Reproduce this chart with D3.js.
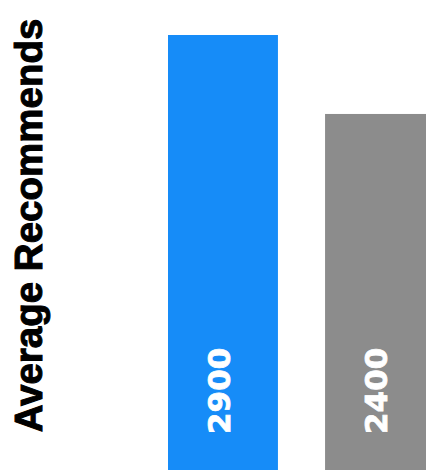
<!DOCTYPE html>
<html>
<head>
<meta charset="utf-8">
<script src="https://cdn.jsdelivr.net/npm/d3@7"></script>
<style>
  html, body { margin: 0; padding: 0; background: #fff; overflow: hidden; }
  svg { display: block; }
</style>
</head>
<body>
<script>
// Average recommends per group
const categories = ["Group A", "Group B"];
const values = [2900, 2400];
const valueLabels = ["2900", "2400"];
const colors = ["#168cf8", "#8c8c8c"];
const yTitle = "Average Recommends";

const W = 426, H = 470;
const svg = d3.select("body").append("svg")
  .attr("width", W).attr("height", H)
  .style("overflow", "hidden");

// plot area extends past the visible frame
const x = d3.scaleBand().domain(categories).range([168, 435]).paddingInner(0.3).paddingOuter(0);
const y = d3.scaleLinear().domain([0, 2900]).range([493, 35]);

svg.selectAll("rect.bar")
  .data(values)
  .join("rect")
  .attr("class", "bar")
  .attr("x", (d, i) => x(categories[i]))
  .attr("width", x.bandwidth())
  .attr("y", d => y(d))
  .attr("height", d => y(0) - y(d))
  .attr("fill", (d, i) => colors[i]);

svg.selectAll("text.val")
  .data(values)
  .join("text")
  .attr("class", "val")
  .attr("transform", (d, i) => `translate(${x(categories[i]) + x.bandwidth() / 2 + 7},434) rotate(-90)`)
  .attr("text-anchor", "start")
  .attr("fill", "#fff")
  .attr("stroke", "#fff")
  .attr("stroke-width", 0.8)
  .style("font-family", "'DejaVu Sans', sans-serif")
  .style("font-weight", "bold")
  .style("font-size", "31px")
  .text((d, i) => valueLabels[i]);

svg.append("text")
  .attr("transform", `translate(42,225.5) rotate(-90)`)
  .attr("text-anchor", "middle")
  .attr("fill", "#000")
  .attr("stroke", "#000")
  .attr("stroke-width", 1)
  .style("font-family", "'Liberation Sans', Arial, sans-serif")
  .style("font-weight", "bold")
  .style("font-size", "38.5px")
  .text(yTitle);
</script>
</body>
</html>
